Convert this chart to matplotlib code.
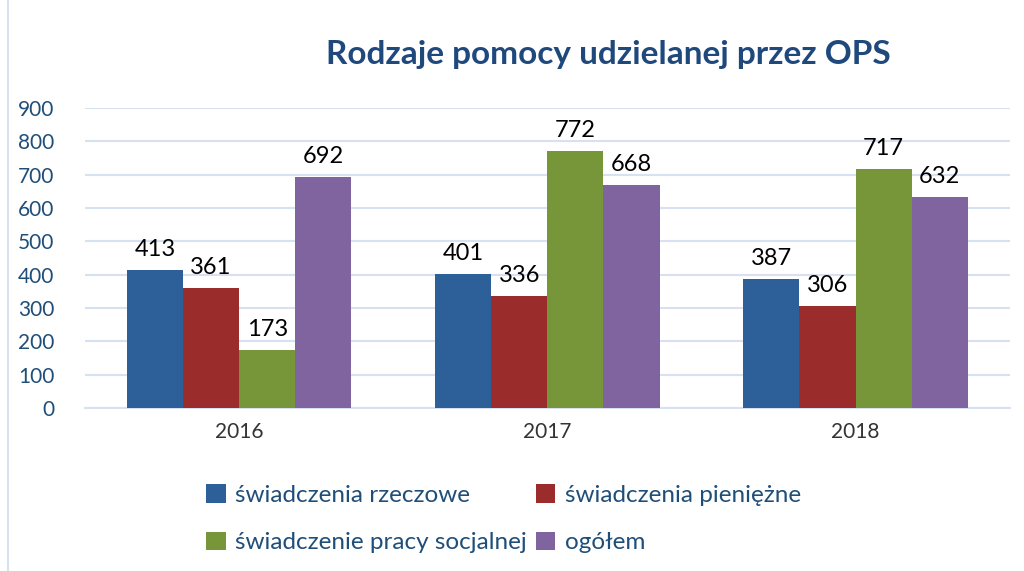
import numpy as np
import matplotlib.pyplot as plt
from matplotlib.lines import Line2D

years = ['2016', '2017', '2018']
series = ['świadczenia rzeczowe', 'świadczenia pieniężne',
          'świadczenie pracy socjalnej', 'ogółem']
rzeczowe = [413, 401, 387]
pieniezne = [361, 336, 306]
socjalne = [173, 772, 717]
ogolem = [692, 668, 632]
colors = ['#2D5F98', '#9A2D2B', '#77963A', '#8064A0']

plt.rcParams['font.family'] = ['Lato', 'DejaVu Sans']

fig = plt.figure(figsize=(10.24, 5.71), dpi=100)
ax = fig.add_axes([0.083, 0.2855, 0.903, 0.5255])

x = np.arange(len(years))
w = 0.182
values = [rzeczowe, pieniezne, socjalne, ogolem]
bars = []
for i, (vals, name, c) in enumerate(zip(values, series, colors)):
    pos = x + (i - 1.5) * w
    bars.append(ax.bar(pos, vals, w, color=c, label=name, zorder=3))
    for p, v in zip(pos, vals):
        ax.text(p, v + 30, str(v), ha='center', va='bottom', fontsize=17, color='black')

ax.set_xlim(-0.5, 2.5)
ax.set_ylim(0, 900)
ax.set_yticks(range(0, 901, 100))
ax.set_xticks(x)
ax.set_xticklabels(years)
ax.tick_params(axis='y', length=0, labelsize=15, labelcolor='#1F4E79', pad=22)
ax.tick_params(axis='x', length=0, labelsize=15, labelcolor='#333333', pad=10)
ax.grid(axis='y', color='#D6E2F2', linewidth=1.5, zorder=0)
for s in ['top', 'right', 'left']:
    ax.spines[s].set_visible(False)
ax.spines['bottom'].set_color('#D6E2F2')
ax.spines['bottom'].set_linewidth(1.5)

fig.text(0.594, 0.905, 'Rodzaje pomocy udzielanej przez OPS', ha='center', va='center',
         fontsize=24, fontweight='bold', color='#1F497D')

# legend filled column-wise, so reorder to get the row layout
order = [0, 2, 1, 3]
fig.legend([bars[i] for i in order], [series[i] for i in order],
           loc='upper left', bbox_to_anchor=(0.18, 0.19), ncol=2, frameon=False,
           fontsize=17.5, labelcolor='#1F4E79', handlelength=0.8, handleheight=0.8,
           handletextpad=0.4, columnspacing=0.35, labelspacing=1.05)

fig.add_artist(Line2D([0.008, 0.008], [0.0, 1.0], color='#D6E2F2', linewidth=1.5))

fig.savefig('out.png', dpi=100)
